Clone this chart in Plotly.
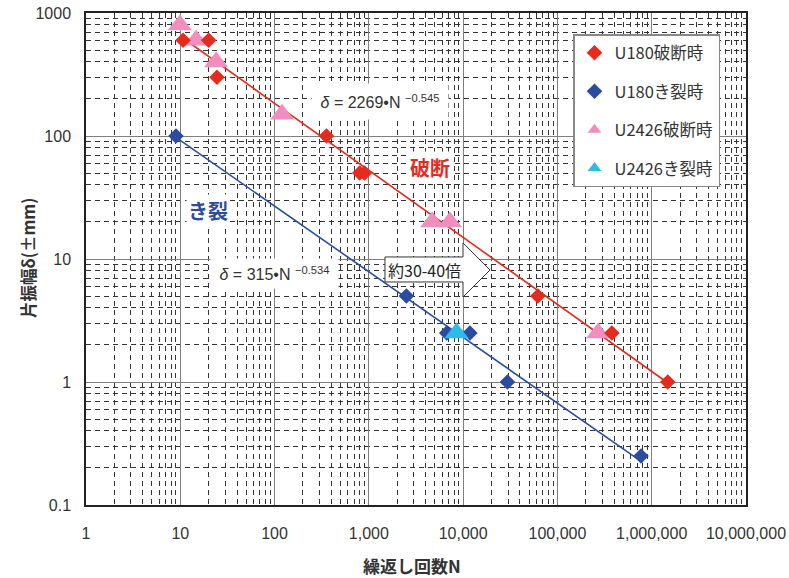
import plotly.graph_objects as go

# ---------------- data ----------------
u180_break_N = [10.7, 20, 24.5, 355, 800, 900, 62000, 378000, 1480000]
u180_break_d = [600, 600, 300, 100, 50, 50, 5, 2.5, 1]

u180_crack_N = [9.0, 2500, 6700, 11800, 29500, 770000]
u180_crack_d = [100, 5, 2.5, 2.5, 1, 0.25]

u2426_break_N = [9.9, 14.7, 24, 120, 4700, 7250, 270000]
u2426_break_d = [800, 600, 400, 150, 20, 20, 2.5]

u2426_crack_N = [8500]
u2426_crack_d = [2.5]

# fitted power laws  delta = a * N^b
fit_break_a, fit_break_b = 2269, -0.545
fit_break_N = [10.7, 1.45e6]
fit_crack_a, fit_crack_b = 315, -0.534
fit_crack_N = [9.0, 8.0e5]

x_tickvals = [1, 10, 100, 1000, 10000, 100000, 1000000, 10000000]
x_ticktext = ["1", "10", "100", "1,000", "10,000", "100,000", "1,000,000", "10,000,000"]
y_tickvals = [0.1, 1, 10, 100, 1000]
y_ticktext = ["0.1", "1", "10", "100", "1000"]
minor_digits = [2, 3, 4, 5, 6, 7, 8, 9]

RED = "#E52A1E"
BLUE = "#2B4C9E"
PINK = "#F08FBE"
CYAN = "#2EBBEA"
FONT = "Liberation Sans, Noto Sans CJK JP, sans-serif"
JFONT = "Noto Sans CJK JP, Liberation Sans, sans-serif"

W, H = 789, 578
L, R, T, B = 86, 746, 13, 505


def px(xp, yp):
    """reference-picture pixel -> paper fraction"""
    return (xp - L) / (R - L), (B - yp) / (B - T)


fig = go.Figure()

fig.add_trace(go.Scatter(
    x=fit_break_N, y=[fit_break_a * n ** fit_break_b for n in fit_break_N],
    mode="lines", line=dict(color=RED, width=1.6), showlegend=False, hoverinfo="skip"))
fig.add_trace(go.Scatter(
    x=fit_crack_N, y=[fit_crack_a * n ** fit_crack_b for n in fit_crack_N],
    mode="lines", line=dict(color=BLUE, width=1.6), showlegend=False, hoverinfo="skip"))

fig.add_trace(go.Scatter(x=u2426_break_N, y=u2426_break_d, mode="markers", name="U2426破断時",
                         legendgroup="c", legendrank=3,
                         marker=dict(symbol="triangle-up", size=21, color=PINK)))
fig.add_trace(go.Scatter(x=u180_break_N, y=u180_break_d, mode="markers", name="U180破断時",
                         legendgroup="a", legendrank=1,
                         marker=dict(symbol="diamond", size=12, color=RED)))
fig.add_trace(go.Scatter(x=u180_crack_N, y=u180_crack_d, mode="markers", name="U180き裂時",
                         legendgroup="b", legendrank=2,
                         marker=dict(symbol="diamond", size=12, color=BLUE)))
fig.add_trace(go.Scatter(x=u2426_crack_N, y=u2426_crack_d, mode="markers", name="U2426き裂時",
                         legendgroup="d", legendrank=4,
                         marker=dict(symbol="triangle-up", size=21, color=CYAN)))


def minor_vals(major):
    return [m * d for m in major[:-1] for d in minor_digits]


def axis_common(major):
    return dict(
        type="log", showgrid=True, gridcolor="#7f7f7f", gridwidth=1.3,
        showline=True, linecolor="#222", linewidth=1.5, mirror=True,
        ticks="", zeroline=False, automargin=False, ticklabeloverflow="allow",
        tickfont=dict(family=FONT, size=16, color="#333"),
        minor=dict(tickmode="array", tickvals=minor_vals(major), showgrid=True,
                   gridcolor="#333", gridwidth=0.8, griddash="5px,4px", ticks=""),
    )


fig.update_xaxes(range=[0, 7.00001], tickmode="array", tickvals=x_tickvals, ticktext=x_ticktext,
                 ticklabelstandoff=13, **axis_common(x_tickvals))
fig.update_yaxes(range=[-1.00001, 3.00001], tickmode="array", tickvals=y_tickvals, ticktext=y_ticktext,
                 ticklabelstandoff=10, **axis_common(y_tickvals))


def note(xp, yp, text, size, color, **kw):
    ax, ay = px(xp, yp)
    d = dict(x=ax, y=ay, xref="paper", yref="paper", text=text, showarrow=False,
             xanchor="center", yanchor="middle", font=dict(family=kw.pop("family", JFONT),
                                                           size=size, color=color))
    d.update(kw)
    return d


annotations = [
    note(28, 258, "<b>片振幅δ(±mm)</b>", 16.5, "#333", textangle=-90),
    note(412, 565, "<b>繰返し回数N</b>", 17, "#333"),
    note(380, 101.5, "<i>δ</i> = 2269•N <sup>−0.545</sup>", 16, "#333",
         family=FONT, bgcolor="white", width=134, height=33),
    note(274.5, 273.5, "<i>δ</i> = 315•N <sup>−0.534</sup>", 16, "#333",
         family=FONT, bgcolor="white", width=125, height=27),
    note(430, 167, "<b>破断</b>", 20, RED, bgcolor="white"),
    note(208, 210, "<b>き裂</b>", 20, BLUE, bgcolor="white"),
    note(424, 269.5, "約30-40倍", 16, "#222"),
]

arrow_px = [(385, 257), (463, 257), (463, 243), (490, 270), (463, 297), (463, 282), (385, 282)]
pts = [px(a, b) for a, b in arrow_px]
path = "M " + " L ".join(f"{a:.4f},{b:.4f}" for a, b in pts) + " Z"
shapes = [dict(type="path", path=path, xref="paper", yref="paper",
               fillcolor="white", line=dict(color="#333", width=1), layer="above")]

lx, ly = px(573, 34)
fig.update_layout(
    width=W, height=H,
    margin=dict(l=L, r=W - R, t=T, b=H - B, autoexpand=False),
    paper_bgcolor="white", plot_bgcolor="white",
    font=dict(family=FONT, size=15, color="#333"),
    annotations=annotations, shapes=shapes,
    legend=dict(x=lx, y=ly, xanchor="left", yanchor="top",
                bgcolor="white", bordercolor="#888", borderwidth=1.5,
                font=dict(family=JFONT, size=16.5, color="#333"),
                itemsizing="constant", traceorder="grouped", tracegroupgap=14),
)

# remove the browser's default 8px body margin so the figure sits at the page origin
fig.write_html("out.html", config={"displayModeBar": False},
               post_script="document.body.style.margin='0';")
